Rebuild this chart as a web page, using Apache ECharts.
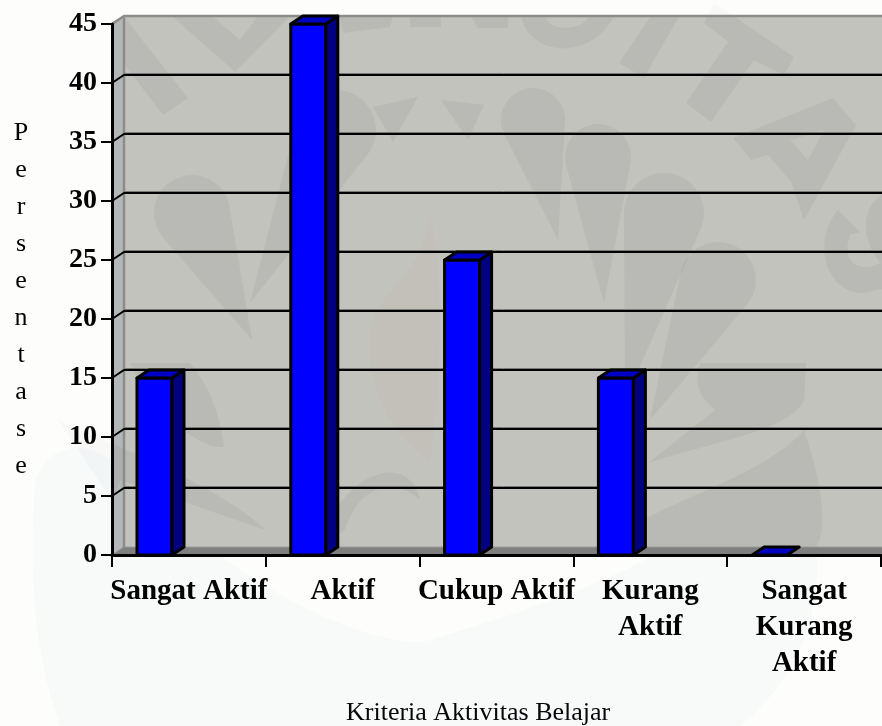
<!DOCTYPE html>
<html><head><meta charset="utf-8">
<style>html,body{margin:0;padding:0;background:#fdfefb}#c{width:882px;height:726px}</style>
<script src="https://cdn.jsdelivr.net/npm/echarts@6/dist/echarts.min.js"></script>
</head><body><div id="c"></div>
<script>
const categories = ['Sangat Aktif','Aktif','Cukup Aktif','Kurang\nAktif','Sangat\nKurang\nAktif'];
const values = [15,45,25,15,0];
const gridValues = [5,10,15,20,25,30,35,40];
const yMax = 45, yStep = 5;
const yTitle = 'Persentase'.split('').join('\n');
const xTitle = 'Kriteria Aktivitas Belajar';
const DX = 12, DY = -8;
const FONT = '"Liberation Serif","Times New Roman",serif';

// Decorative background watermark (page-pixel outlines), unrelated to the data
function drop(cx,cy,r,tx,ty){
  const a=Math.atan2(ty-cy,tx-cx), d=Math.hypot(tx-cx,ty-cy), b=Math.acos(r/d);
  const p1=[cx+r*Math.cos(a+b),cy+r*Math.sin(a+b)], p2=[cx+r*Math.cos(a-b),cy+r*Math.sin(a-b)];
  return `M${tx} ${ty}L${p1[0]} ${p1[1]}A${r} ${r} 0 1 1 ${p2[0]} ${p2[1]}Z`;
}
const watermark = [
  'M125 18L188 98L163 115L125 65Z',
  'M172 16L212 16L240 40L258 16L290 16L235 72Z',
  'M340 16L393 16L390 27L343 33Z','M410 16L441 16L441 27L410 27Z',
  'M471 16L508 16L508 28L478 28Z','M521 16C530 58 592 60 614 16L590 16C580 32 550 32 545 16Z',
  'M651 16L679 16L644 78L619 63Z',
  'M714 3L794 57L784 75L754 60L711 122L686 103L728 42L704 23Z',
  'M833 98L856 125L804 220L791 182L768 155L751 160L733 138ZM790 140L808 160L824 130Z',
  'M838 210C812 240 825 292 862 293L882 289L882 262C860 275 840 262 850 235L860 232Z',
  'M882 195C862 205 860 240 880 262L882 262Z',
  'M373 107L418 97L393 142Z','M441 100L484 105L468 140Z',
  drop(192,213,38,252,340), drop(336,130,40,250,303),
  drop(533,120,32,558,240), drop(598,157,33,604,303),
  drop(664,213,40,625,400), drop(718,280,38,650,420),
  'M700 363C690 395 712 405 715 410L648 463C720 440 790 430 804 400L806 363Z',
  'M804 430C828 500 825 540 815 547L600 547C660 500 760 480 804 430Z',
  'M58 420C100 440 210 480 266 530L120 480L112 500Z',
  'M130 363C150 410 200 450 224 447C220 410 205 380 190 363Z',
  'M345 530C360 480 400 480 420 500C410 450 340 470 320 547Z'
];
const pinkLeaves = ['M370 330C385 280 420 280 430 215C445 280 440 390 430 460C395 440 365 390 370 330Z'];
const bottomWash = ['M35 480C60 430 100 430 200 540C300 620 400 650 430 640C560 600 700 560 790 440C840 560 820 660 740 726L60 726C30 640 30 560 35 480Z'];

const chart = echarts.init(document.getElementById('c'), null, {renderer:'canvas'});
function pts(a){return {points:a};}
function paths(list,fill){return list.map(d=>({type:'path',shape:{pathData:d},style:{fill}}));}

chart.setOption({
  animation:false,
  backgroundColor:'#fdfefb',
  grid:{left:112,top:24,width:769,height:531,containLabel:false},
  xAxis:{type:'category',data:categories,
    axisLine:{lineStyle:{color:'#000',width:3}},
    axisTick:{show:true,alignWithLabel:false,length:12,lineStyle:{color:'#000',width:2}},
    axisLabel:{interval:0,color:'#000',fontFamily:FONT,fontWeight:'bold',fontSize:29,lineHeight:36,margin:19},
    z:6},
  yAxis:{type:'value',min:0,max:yMax,interval:yStep,
    axisLine:{show:true,lineStyle:{color:'#000',width:3}},
    axisTick:{show:true,length:11,lineStyle:{color:'#000',width:2}},
    axisLabel:{color:'#000',fontFamily:FONT,fontWeight:'bold',fontSize:28,margin:15,padding:[8,0,0,0]},
    splitLine:{show:false},z:6},
  graphic:[
    {type:'text',style:{x:21,y:115,text:yTitle,fill:'#000',font:'26px '+FONT,lineHeight:37,align:'center',verticalAlign:'top'}},
    {type:'text',style:{x:346,y:713,text:xTitle,fill:'#000',font:'26px '+FONT,verticalAlign:'middle'}}
  ],
  series:[
    {type:'custom',z:0,clip:false,data:[[0,0]],silent:true,
     renderItem(){
       return {type:'group',children:[
         ...paths(bottomWash,'rgba(120,165,200,0.045)'),
         ...paths(watermark,'rgba(100,100,130,0.03)')
       ]};
     }},
    {type:'custom',z:1,clip:false,data:[[0,0]],silent:true,
     renderItem(p){
       const cs=p.coordSys, L=cs.x,R=cs.x+cs.width+2,T=cs.y,B=cs.y+cs.height;
       return {type:'group',children:[
         {type:'polygon',shape:pts([[L+DX,T+DY],[R,T+DY],[R,B+DY],[L+DX,B+DY]]),style:{fill:'#c3c3bd'}},
         {type:'polygon',shape:pts([[L,T],[L+DX,T+DY],[L+DX,B+DY],[L,B]]),style:{fill:'#b4b7b7'}}
       ]};
     }},
    {type:'custom',z:2,clip:false,data:[[0,0]],silent:true,
     renderItem(p){
       const cs=p.coordSys, L=cs.x,R=cs.x+cs.width+2,T=cs.y,B=cs.y+cs.height;
       const clip={type:'rect',shape:{x:L,y:T+DY,width:R-L,height:B-T-DY}};
       const wall=[...paths(pinkLeaves,'rgba(190,120,120,0.05)'),...paths(watermark,'rgba(100,100,120,0.105)')];
       return {type:'group',children:[
         {type:'group',clipPath:clip,children:wall},
         {type:'polygon',shape:pts([[L,B],[L+DX,B+DY],[R,B+DY],[R,B]]),style:{fill:'#7f7f7f'}},
         {type:'line',shape:{x1:L+DX,y1:B+DY,x2:R,y2:B+DY},style:{stroke:'#9a9a98',lineWidth:1}},
         {type:'polyline',shape:pts([[L,T],[L+DX,T+DY],[R,T+DY]]),style:{fill:'none',stroke:'#8c8c8a',lineWidth:2.5}},
         {type:'line',shape:{x1:L+DX,y1:T+DY,x2:L+DX,y2:B+DY},style:{stroke:'#8c8c8a',lineWidth:2.5}},
         {type:'line',shape:{x1:L,y1:B,x2:L+DX,y2:B+DY},style:{stroke:'#8a8a8a',lineWidth:1}}
       ]};
     }},
    {type:'custom',z:3,clip:false,data:gridValues.map(v=>[0,v]),silent:true,
     renderItem(p,api){
       const cs=p.coordSys, y=api.coord([0,api.value(1)])[1];
       return {type:'group',children:[
         {type:'line',shape:{x1:cs.x+DX,y1:y+DY-1.5,x2:cs.x+cs.width+2,y2:y+DY-1.5},style:{stroke:'#7a7a78',lineWidth:1}},
         {type:'polyline',shape:pts([[cs.x,y],[cs.x+DX,y+DY],[cs.x+cs.width+2,y+DY]]),style:{fill:'none',stroke:'#000',lineWidth:2}}
       ]};
     }},
    {type:'custom',z:4,clip:false,data:values.map((v,i)=>[i,v]),
     renderItem(p,api){
       const c=api.coord([api.value(0),api.value(1)]), b=api.coord([api.value(0),0]);
       const band=api.size([1,0])[0], w=band*0.2275, x=c[0]-band*0.5+band*0.1625, y=c[1];
       const st={stroke:'#000',lineWidth:3,lineJoin:'round'};
       const kids=[];
       if(b[1]-y>0){
         kids.push({type:'rect',shape:{x,y,width:w,height:b[1]-y},style:{fill:'#0000ff',...st}});
         kids.push({type:'polygon',shape:pts([[x+w,y],[x+w+DX,y+DY],[x+w+DX,b[1]+DY],[x+w,b[1]]]),style:{fill:'#000080',...st}});
       }
       kids.push({type:'polygon',shape:pts([[x,y],[x+DX,y+DY],[x+w+DX,y+DY],[x+w,y]]),style:{fill:'#0000c4',...st}});
       return {type:'group',children:kids};
     }}
  ]
});
</script></body></html>
